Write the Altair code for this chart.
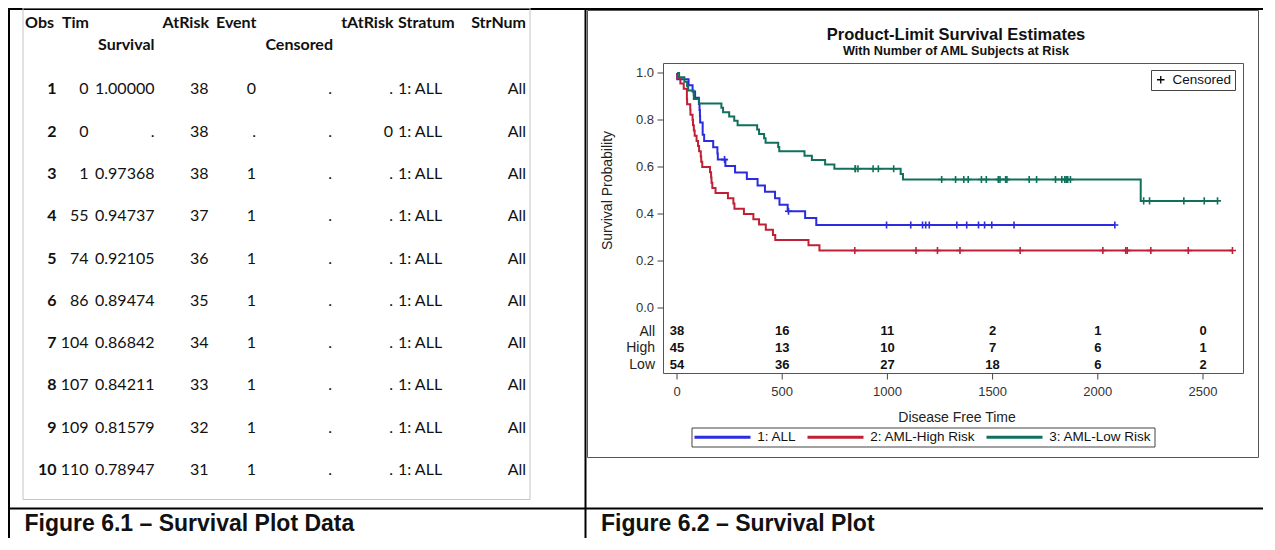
import altair as alt
import pandas as pd

# ---------------- Figure 6.1 : listing of the survival plot data ----------------
obs_no = [1, 2, 3, 4, 5, 6, 7, 8, 9, 10]
obs_time = [0, 0, 1, 55, 74, 86, 104, 107, 109, 110]
obs_survival = ["1.00000", ".", "0.97368", "0.94737", "0.92105", "0.89474",
                "0.86842", "0.84211", "0.81579", "0.78947"]
obs_atrisk = [38, 38, 38, 37, 36, 35, 34, 33, 32, 31]
obs_event = ["0", ".", "1", "1", "1", "1", "1", "1", "1", "1"]
obs_censored = [".", ".", ".", ".", ".", ".", ".", ".", ".", "."]
obs_tatrisk = [".", "0", ".", ".", ".", ".", ".", ".", ".", "."]
obs_stratum = ["1: ALL", "1: ALL", "1: ALL", "1: ALL", "1: ALL",
               "1: ALL", "1: ALL", "1: ALL", "1: ALL", "1: ALL"]
obs_strnum = ["All", "All", "All", "All", "All", "All", "All", "All", "All", "All"]

# ---------------- Figure 6.2 : product-limit survival estimates ----------------
group_names = ["1: ALL", "2: AML-High Risk", "3: AML-Low Risk"]
group_colors = ["#2B2BE0", "#BF2036", "#11705C"]

all_time = [0, 1, 55, 74, 86, 104, 107, 109, 110, 122, 129, 172, 192, 194, 230,
            276, 332, 383, 418, 466, 487, 526, 609, 662, 2081]
all_surv = [1.0, 0.97368, 0.94737, 0.92105, 0.89474, 0.86842, 0.84211, 0.81579,
            0.78947, 0.73684, 0.71053, 0.68421, 0.65789, 0.63158, 0.60412, 0.57666,
            0.54920, 0.52174, 0.49428, 0.46682, 0.43936, 0.41190, 0.38248, 0.35306,
            0.35306]
all_cens_time = [226, 530, 996, 1111, 1167, 1182, 1199, 1330, 1377, 1433, 1462,
                 1496, 1602, 2081]
all_cens_surv = [0.63158, 0.41190, 0.35306, 0.35306, 0.35306, 0.35306, 0.35306,
                 0.35306, 0.35306, 0.35306, 0.35306, 0.35306, 0.35306, 0.35306]

high_time = [0, 2, 16, 32, 47, 48, 63, 64, 74, 76, 80, 84, 93, 100, 105, 113, 115,
             120, 157, 162, 164, 168, 183, 242, 268, 273, 318, 363, 390, 422, 456,
             467, 625, 677, 2640]
high_surv = [1.0, 0.97778, 0.95556, 0.93333, 0.88889, 0.86667, 0.84444, 0.82222,
             0.80000, 0.77778, 0.75556, 0.73333, 0.71111, 0.68889, 0.66667, 0.64444,
             0.62222, 0.60000, 0.57778, 0.55556, 0.53333, 0.51111, 0.48889, 0.46667,
             0.44444, 0.42222, 0.40000, 0.37778, 0.35556, 0.33333, 0.31111, 0.28889,
             0.26667, 0.24444, 0.24444]
high_cens_time = [845, 1136, 1238, 1345, 1631, 2024, 2133, 2140, 2252, 2430, 2640]
high_cens_surv = [0.24444, 0.24444, 0.24444, 0.24444, 0.24444, 0.24444, 0.24444,
                  0.24444, 0.24444, 0.24444, 0.24444]

low_time = [0, 10, 35, 48, 53, 79, 80, 105, 211, 219, 248, 272, 288, 381, 390, 414,
            421, 481, 486, 606, 641, 704, 748, 1063, 1074, 2204, 2569]
low_surv = [1.0, 0.98148, 0.96296, 0.94444, 0.92593, 0.90741, 0.88889, 0.87037,
            0.85185, 0.83333, 0.81481, 0.79630, 0.77778, 0.75926, 0.74074, 0.72222,
            0.70370, 0.68519, 0.66667, 0.64815, 0.62963, 0.61111, 0.59259, 0.56980,
            0.54701, 0.45584, 0.45584]
low_cens_time = [847, 848, 860, 932, 957, 1030, 1258, 1324, 1363, 1384, 1447, 1470,
                 1527, 1535, 1562, 1568, 1674, 1709, 1799, 1829, 1843, 1850, 1857,
                 1870, 2218, 2246, 2409, 2506, 2569]
low_cens_surv = [0.59259, 0.59259, 0.59259, 0.59259, 0.59259, 0.59259,
                 0.54701, 0.54701, 0.54701, 0.54701, 0.54701, 0.54701, 0.54701,
                 0.54701, 0.54701, 0.54701, 0.54701, 0.54701, 0.54701, 0.54701,
                 0.54701, 0.54701, 0.54701, 0.54701,
                 0.45584, 0.45584, 0.45584, 0.45584, 0.45584]

risk_times = [0, 500, 1000, 1500, 2000, 2500]
risk_labels = ["All", "High", "Low"]
risk_all = [38, 16, 11, 2, 1, 0]
risk_high = [45, 13, 10, 7, 6, 1]
risk_low = [54, 36, 27, 18, 6, 2]

x_ticks = [0, 500, 1000, 1500, 2000, 2500]
y_ticks = [0.0, 0.2, 0.4, 0.6, 0.8, 1.0]

# ---------------- tables built from the lists ----------------
table_df = pd.DataFrame({
    "row": obs_no,
    "Obs": [str(v) for v in obs_no],
    "Tim": [str(v) for v in obs_time],
    "Survival": obs_survival,
    "AtRisk": [str(v) for v in obs_atrisk],
    "Event": obs_event,
    "Censored": obs_censored,
    "tAtRisk": obs_tatrisk,
    "Stratum": obs_stratum,
    "StrNum": obs_strnum,
})

curve_df = pd.concat([
    pd.DataFrame({"time": all_time, "surv": all_surv, "group": group_names[0]}),
    pd.DataFrame({"time": high_time, "surv": high_surv, "group": group_names[1]}),
    pd.DataFrame({"time": low_time, "surv": low_surv, "group": group_names[2]}),
], ignore_index=True)

cens_df = pd.concat([
    pd.DataFrame({"time": all_cens_time, "surv": all_cens_surv, "group": group_names[0]}),
    pd.DataFrame({"time": high_cens_time, "surv": high_cens_surv, "group": group_names[1]}),
    pd.DataFrame({"time": low_cens_time, "surv": low_cens_surv, "group": group_names[2]}),
], ignore_index=True)
cens_df["kind"] = "Censored"

risk_df = pd.concat([
    pd.DataFrame({"time": risk_times, "count": risk_all, "row": risk_labels[0]}),
    pd.DataFrame({"time": risk_times, "count": risk_high, "row": risk_labels[1]}),
    pd.DataFrame({"time": risk_times, "count": risk_low, "row": risk_labels[2]}),
], ignore_index=True)

xtick_df = pd.DataFrame({"v": x_ticks})
ytick_df = pd.DataFrame({"v": y_ticks})

# ---------------- layout helpers (page px -> chart px) ----------------
W, H = 1255, 530
FONT = "Liberation Sans"
TFONT = "Lato"
PLUS = "M-1,0H1M0,-1V1"
LEGLINE = "M-8,0H8"


def P(v):
    return v - 8


one = pd.DataFrame({"k": [0]})


def hline(y, x1, x2, color, width):
    return alt.Chart(one).mark_rule(color=color, strokeWidth=width).encode(
        x=alt.value(x1), x2=alt.value(x2), y=alt.value(y), y2=alt.value(y))


def vline(x, y1, y2, color, width):
    return alt.Chart(one).mark_rule(color=color, strokeWidth=width).encode(
        x=alt.value(x), x2=alt.value(x), y=alt.value(y1), y2=alt.value(y2))


def frame(x1, y1, x2, y2, color, width):
    return alt.Chart(one).mark_rect(fillOpacity=0, stroke=color, strokeWidth=width).encode(
        x=alt.value(x1), x2=alt.value(x2), y=alt.value(y1), y2=alt.value(y2))


def label(txt, x, y, size, bold=False, align="left", baseline="alphabetic",
          font=FONT, color="#111", angle=0):
    return alt.Chart(one).mark_text(
        text=txt, font=font, fontSize=size, fontWeight="bold" if bold else "normal",
        align=align, baseline=baseline, color=color, angle=angle).encode(
        x=alt.value(x), y=alt.value(y))


deco = [
    hline(1, 0, W, "black", 2),
    vline(1, 0, H, "black", 2),
    vline(P(585.5), 0, H, "black", 2),
    hline(P(508.5), 0, W, "black", 2),
    frame(P(23), 0, P(530), P(499.5), "#c4c4c4", 1),
    frame(P(587.5), P(10.5), P(1258.5), P(457.5), "#555555", 1),
    frame(P(663.5), P(63.5), P(1243.5), P(373.5), "#555555", 1),
]

# ---------------- left listing ----------------
TSIZE = 16
row_scale = alt.Scale(domain=[1, 10], range=[P(89.3), P(470)], nice=False, zero=False)
col_layout = [
    ("Obs", P(56.5), "right", True),
    ("Tim", P(88.5), "right", False),
    ("Survival", P(154.5), "right", False),
    ("AtRisk", P(208.5), "right", False),
    ("Event", P(256), "right", False),
    ("Censored", P(332), "right", False),
    ("tAtRisk", P(393), "right", False),
    ("Stratum", P(398), "left", False),
    ("StrNum", P(526), "right", False),
]
table_layers = []
for field, xpos, align, bold in col_layout:
    table_layers.append(
        alt.Chart(table_df).mark_text(
            font=TFONT, fontSize=TSIZE, fontWeight="bold" if bold else "normal",
            align=align, baseline="middle", color="#111").encode(
            x=alt.value(xpos),
            y=alt.Y("row:Q", scale=row_scale, axis=None),
            text=alt.Text(field + ":N"))
    )
table = alt.layer(*table_layers)

header_layout = [
    ("Obs", P(54), P(22.7), "right"),
    ("Tim", P(89), P(22.7), "right"),
    ("AtRisk", P(209), P(22.7), "right"),
    ("Event", P(256.5), P(22.7), "right"),
    ("tAtRisk", P(393.5), P(22.7), "right"),
    ("Stratum", P(398), P(22.7), "left"),
    ("StrNum", P(526), P(22.7), "right"),
    ("Survival", P(154.5), P(45), "right"),
    ("Censored", P(333), P(45), "right"),
]
headers = [label(t, x, y, TSIZE, bold=True, align=a, baseline="middle", font=TFONT)
           for t, x, y, a in header_layout]

# ---------------- survival plot ----------------
xs = alt.Scale(domain=[0, 2500], range=[P(677), P(1203)], nice=False, zero=False)
ys = alt.Scale(domain=[0, 1], range=[P(308), P(73)], nice=False, zero=False)
cs = alt.Scale(domain=group_names, range=group_colors)

color_legend = alt.Legend(
    orient="none", legendX=P(691.5), legendY=P(427.5), direction="horizontal",
    title=None, symbolType=LEGLINE, symbolSize=49, symbolStrokeWidth=3,
    symbolOffset=21.75, labelOffset=28, columnPadding=4, padding=2.5,
    labelFont=FONT, labelFontSize=13.5, labelColor="#111",
    strokeColor="#444444", fillColor="white")

lines = alt.Chart(curve_df).mark_line(interpolate="step-after", strokeWidth=2).encode(
    x=alt.X("time:Q", scale=xs, axis=None),
    y=alt.Y("surv:Q", scale=ys, axis=None),
    color=alt.Color("group:N", scale=cs, legend=color_legend),
)

points = alt.Chart(cens_df).mark_point(filled=False, size=50, strokeWidth=1.6, opacity=1).encode(
    x=alt.X("time:Q", scale=xs, axis=None),
    y=alt.Y("surv:Q", scale=ys, axis=None),
    color=alt.Color("group:N", scale=cs, legend=color_legend),
    shape=alt.Shape("kind:N", scale=alt.Scale(domain=["Censored"], range=[PLUS]),
                    legend=alt.Legend(
                        orient="none", legendX=P(1151), legendY=P(70), title=None,
                        symbolStrokeColor="black", symbolFillColor="transparent",
                        symbolStrokeWidth=1.3, symbolSize=56, labelOffset=5,
                        padding=3, labelFont=FONT, labelFontSize=13.5,
                        labelColor="#111", strokeColor="#444444", fillColor="white")),
)

# axis ticks and tick labels drawn through the same scales
ytick_marks = alt.Chart(ytick_df).mark_rule(color="#444", strokeWidth=1).encode(
    x=alt.value(P(657.5)), x2=alt.value(P(663.5)),
    y=alt.Y("v:Q", scale=ys, axis=None))
ytick_text = alt.Chart(ytick_df).mark_text(
    font=FONT, fontSize=13, color="#333", align="right", baseline="middle").encode(
    x=alt.value(P(654)), y=alt.Y("v:Q", scale=ys, axis=None),
    text=alt.Text("v:Q", format=".1f"))
xtick_marks = alt.Chart(xtick_df).mark_rule(color="#444", strokeWidth=1).encode(
    x=alt.X("v:Q", scale=xs, axis=None),
    y=alt.value(P(373.5)), y2=alt.value(P(379.5)))
xtick_text = alt.Chart(xtick_df).mark_text(
    font=FONT, fontSize=13, color="#333", align="center", baseline="top").encode(
    x=alt.X("v:Q", scale=xs, axis=None), y=alt.value(P(385.5)),
    text=alt.Text("v:Q", format="d"))

curves = alt.layer(lines, points, ytick_marks, ytick_text, xtick_marks, xtick_text)

atrisk = alt.Chart(risk_df).mark_text(
    font=FONT, fontSize=13, fontWeight="bold", align="center", baseline="middle",
    color="#111").encode(
    x=alt.X("time:Q", scale=xs, axis=None),
    y=alt.Y("row:N", scale=alt.Scale(domain=risk_labels, range=[P(331.3), P(364.5)], padding=0),
            axis=alt.Axis(orient="left", offset=-P(663.5), ticks=False, domain=False,
                          labelPadding=9, labelFont=FONT, labelFontSize=14,
                          labelColor="#222", title=None)),
    text=alt.Text("count:N"),
)

surv = alt.layer(curves, atrisk).resolve_scale(y="independent")

titles = [
    label("Product-Limit Survival Estimates", P(956), P(39.5), 16.5, bold=True, align="center"),
    label("With Number of AML Subjects at Risk", P(956), P(55), 12.7, bold=True, align="center"),
    label("Survival Probability", P(608), P(190.5), 14, align="center",
          baseline="middle", color="#222", angle=270),
    label("Disease Free Time", P(957), P(421.5), 14, align="center", color="#222"),
    label("Figure 6.1 \u2013 Survival Plot Data", P(24.5), P(531), 23, bold=True),
    label("Figure 6.2 \u2013 Survival Plot", P(601), P(531), 23, bold=True),
]

chart = alt.layer(*deco, table, *headers, *titles, surv).resolve_scale(
    x="independent", y="independent"
).properties(
    width=W, height=H, padding=0,
    autosize=alt.AutoSizeParams(type="none"),
).configure_view(strokeWidth=0)

chart.save("out.html", embed_options={"renderer": "svg", "actions": False})
